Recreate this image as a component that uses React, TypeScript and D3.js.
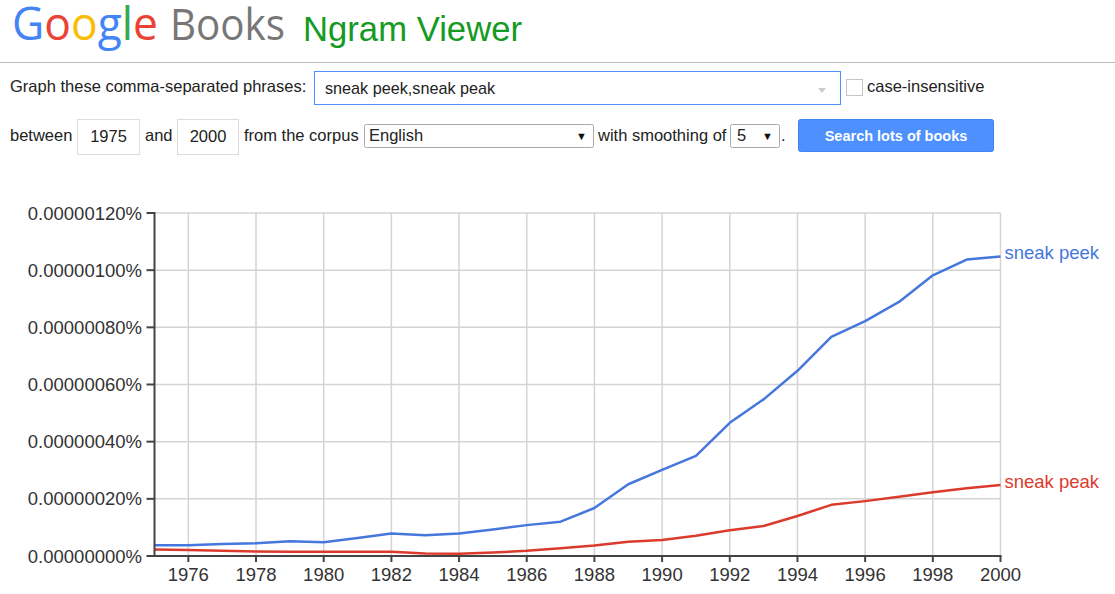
import React from "react";
import * as d3 from "d3";

const years = d3.range(1975, 2001);
// values in percent
const sneakPeek = [
  0.038e-6, 0.038e-6, 0.042e-6, 0.045e-6, 0.052e-6, 0.048e-6, 0.063e-6, 0.079e-6, 0.073e-6, 0.079e-6,
  0.093e-6, 0.108e-6, 0.12e-6, 0.168e-6, 0.251e-6, 0.301e-6, 0.35e-6, 0.466e-6, 0.548e-6, 0.648e-6,
  0.767e-6, 0.822e-6, 0.889e-6, 0.982e-6, 1.037e-6, 1.048e-6,
];
const sneakPeak = [
  0.023e-6, 0.021e-6, 0.018e-6, 0.016e-6, 0.015e-6, 0.015e-6, 0.015e-6, 0.015e-6, 0.009e-6, 0.008e-6,
  0.012e-6, 0.018e-6, 0.027e-6, 0.037e-6, 0.05e-6, 0.056e-6, 0.071e-6, 0.09e-6, 0.105e-6, 0.14e-6,
  0.179e-6, 0.192e-6, 0.207e-6, 0.223e-6, 0.237e-6, 0.248e-6,
];
const seriesNames = ["sneak peek", "sneak peak"];
const seriesColors = ["#4677dc", "#db3b2d"];
const yTicks = [0, 0.2e-6, 0.4e-6, 0.6e-6, 0.8e-6, 1.0e-6, 1.2e-6];
const xTicks = d3.range(1976, 2001, 2);

const FONT = "'Liberation Sans', Arial, sans-serif";

export default function App() {
  const x = d3.scaleLinear().domain([1975, 2000]).range([154.5, 1000.5]);
  const y = d3.scaleLinear().domain([0, 1.2e-6]).range([556, 213]);
  const line = d3
    .line<number>()
    .x((_, i) => x(years[i]))
    .y((d) => y(d));
  const series = [sneakPeek, sneakPeak];
  const googleLetters = [
    { t: "G", c: "#4285f4" },
    { t: "o", c: "#ea4335" },
    { t: "o", c: "#fbbc05" },
    { t: "g", c: "#4285f4" },
    { t: "l", c: "#34a853" },
    { t: "e", c: "#ea4335" },
  ];
  return (
    <svg
      width={1115}
      height={594}
      style={{ position: "absolute", left: 0, top: 0, background: "#fff" }}
      fontFamily={FONT}
    >
      {/* Header */}
      <text x={12} y={40} fontSize={46} fontFamily="'Open Sans', Roboto, sans-serif" textLength={146} lengthAdjust="spacingAndGlyphs">
        {googleLetters.map((l, i) => (
          <tspan key={i} fill={l.c}>
            {l.t}
          </tspan>
        ))}
      </text>
      <text x={170} y={40} fontSize={44} fill="#777" fontFamily="'Open Sans', Roboto, sans-serif" textLength={115} lengthAdjust="spacingAndGlyphs">
        Books
      </text>
      <text x={303} y={41} fontSize={35} fill="#159a22" textLength={219} lengthAdjust="spacingAndGlyphs">
        Ngram Viewer
      </text>
      <line x1={0} x2={1115} y1={62.5} y2={62.5} stroke="#bbb" strokeWidth={1} />

      {/* Row 1 */}
      <text x={10} y={92} fontSize={16.5} fill="#222">
        Graph these comma-separated phrases:
      </text>
      <rect x={314.5} y={71.5} width={526} height={33} fill="#fff" stroke="#4d90fe" />
      <text x={325} y={94} fontSize={16.2} fill="#222">
        sneak peek,sneak peak
      </text>
      <path d="M818,88 L826,88 L822,93 Z" fill="#ccc" />
      <rect x={846.5} y={79.5} width={16} height={16} fill="#fff" stroke="#c6c6c6" />
      <text x={867} y={92} fontSize={16.5} fill="#222">
        case-insensitive
      </text>

      {/* Row 2 */}
      <text x={10} y={141} fontSize={16.5} fill="#222">between</text>
      <rect x={77.5} y={119.5} width={62} height={35} fill="#fff" stroke="#ddd" />
      <text x={108.5} y={142} fontSize={16.5} fill="#222" textAnchor="middle">1975</text>
      <text x={145} y={141} fontSize={16.5} fill="#222">and</text>
      <rect x={177.5} y={119.5} width={61} height={35} fill="#fff" stroke="#ddd" />
      <text x={208} y={142} fontSize={16.5} fill="#222" textAnchor="middle">2000</text>
      <text x={244} y={141} fontSize={16.5} fill="#222">from the corpus</text>
      <rect x={364.5} y={124.5} width={229} height={23} rx={2} fill="#fff" stroke="#a9a9a9" />
      <text x={369} y={141} fontSize={16.5} fill="#222">English</text>
      <text x={576} y={140} fontSize={11} fill="#111">▼</text>
      <text x={598} y={141} fontSize={16.5} fill="#222">with smoothing of</text>
      <rect x={730.5} y={124.5} width={49} height={23} rx={2} fill="#fff" stroke="#a9a9a9" />
      <text x={737} y={141} fontSize={16.5} fill="#222">5</text>
      <text x={762} y={140} fontSize={11} fill="#111">▼</text>
      <text x={781} y={141} fontSize={16.5} fill="#222">.</text>
      <rect x={798.5} y={119.5} width={195} height={32} rx={2} fill="#4d90fe" stroke="#3f86f5" />
      <text x={896} y={141} fontSize={14.5} fontWeight="bold" fill="#fff" textAnchor="middle">
        Search lots of books
      </text>

      {/* Grid */}
      {yTicks.map((t, i) => (
        <line key={"gy" + i} x1={x(1975)} x2={x(2000)} y1={y(t)} y2={y(t)} stroke="#d4d4d4" strokeWidth={1.5} />
      ))}
      {xTicks.map((t) => (
        <line key={"gx" + t} x1={x(t)} x2={x(t)} y1={y(1.2e-6)} y2={y(0)} stroke="#d4d4d4" strokeWidth={1.5} />
      ))}

      {/* Lines */}
      {series.map((s, i) => (
        <path key={"l" + i} d={line(s) || ""} fill="none" stroke={seriesColors[i]} strokeWidth={2.5} strokeLinejoin="round" />
      ))}
      {series.map((s, i) => (
        <text key={"sl" + i} x={x(2000) + 4} y={y(s[s.length - 1]) + 3} fontSize={18.5} fill={seriesColors[i]}>
          {seriesNames[i]}
        </text>
      ))}

      {/* Axes */}
      <line x1={x(1975)} x2={x(1975)} y1={y(1.2e-6) - 1} y2={y(0) + 1} stroke="#444" strokeWidth={2} />
      <line x1={x(1975) - 1} x2={x(2000) + 1} y1={y(0)} y2={y(0)} stroke="#444" strokeWidth={2} />
      {yTicks.map((t, i) => (
        <g key={"yt" + i}>
          <line x1={x(1975) - 8} x2={x(1975)} y1={y(t)} y2={y(t)} stroke="#444" strokeWidth={2} />
          <text x={142} y={y(t) + 6.5} fontSize={18.5} fill="#333" textAnchor="end">
            {t.toFixed(8) + "%"}
          </text>
        </g>
      ))}
      {xTicks.map((t) => (
        <g key={"xt" + t}>
          <line x1={x(t)} x2={x(t)} y1={y(0)} y2={y(0) + 6} stroke="#444" strokeWidth={2} />
          <text x={x(t)} y={581} fontSize={18.5} fill="#333" textAnchor="middle">
            {t}
          </text>
        </g>
      ))}
    </svg>
  );
}
